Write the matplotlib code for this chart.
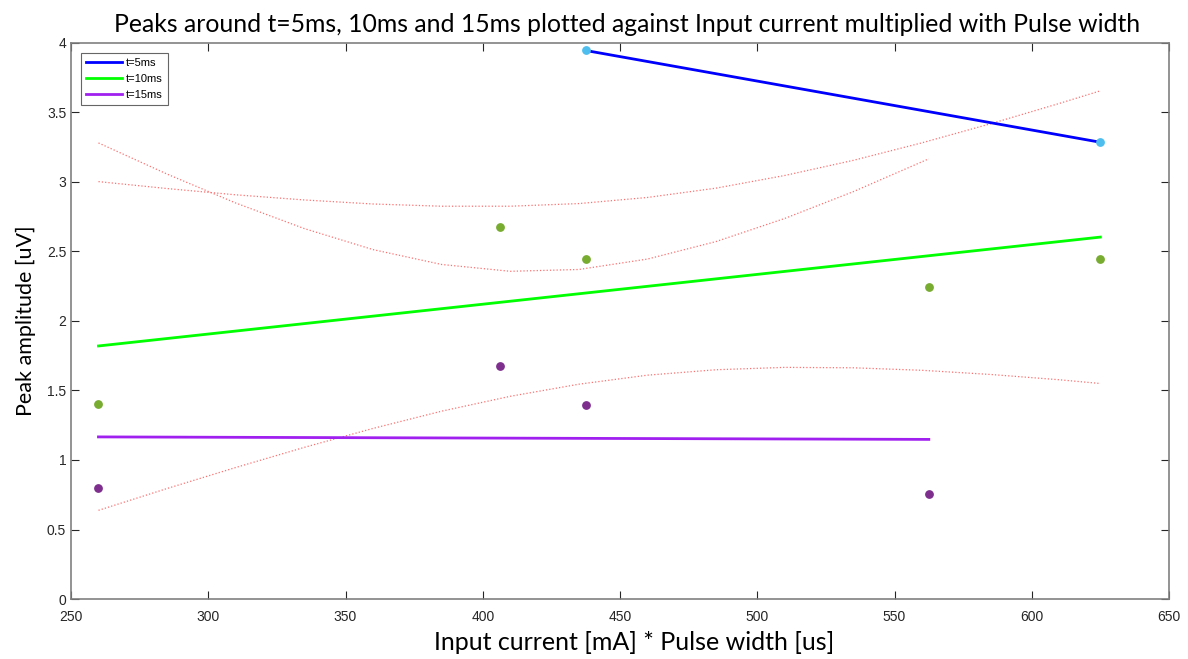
import matplotlib.pyplot as plt
import numpy as np

# measured points (x = input current * pulse width)
x_5 = [437.5, 625]
y_5 = [3.945, 3.285]
x_10 = [260, 406.25, 437.5, 562.5, 625]
y_10 = [1.404, 2.678, 2.448, 2.246, 2.448]
x_15 = [260, 406.25, 437.5, 562.5]
y_15 = [0.797, 1.677, 1.397, 0.754]

# fitted lines (end points)
fit5_x = [437.5, 625]
fit5_y = [3.945, 3.285]
fit10_x = [260, 625]
fit10_y = [1.820, 2.603]
fit15_x = [260, 562.5]
fit15_y = [1.166, 1.148]

# confidence bounds (dotted red), sampled along x
b10_x = [260, 285, 310, 335, 360, 385, 410, 435, 460, 485, 510, 535, 560, 585, 610, 625]
b10_up = [3.002, 2.952, 2.907, 2.870, 2.841, 2.825, 2.825, 2.844, 2.888, 2.955, 3.046,
          3.155, 3.281, 3.418, 3.564, 3.655]
b10_lo = [0.638, 0.795, 0.946, 1.091, 1.227, 1.351, 1.458, 1.545, 1.610, 1.649, 1.666,
          1.663, 1.645, 1.615, 1.577, 1.550]
b15_x = [260, 285, 310, 335, 360, 385, 410, 435, 460, 485, 510, 535, 562.5]
b15_up = [3.280, 3.056, 2.848, 2.664, 2.513, 2.406, 2.357, 2.370, 2.445, 2.571, 2.737,
          2.930, 3.166]

plt.rcParams['font.family'] = ['Liberation Sans', 'DejaVu Sans']
fig = plt.figure(figsize=(11.88, 6.59), dpi=100)
ax = fig.add_axes([0.0598, 0.091, 0.9242, 0.844])

bound_style = dict(color='#ff7070', linestyle=':', linewidth=0.9)
ax.plot(b10_x, b10_up, **bound_style)
ax.plot(b10_x, b10_lo, **bound_style)
ax.plot(b15_x, b15_up, **bound_style)

l5, = ax.plot(fit5_x, fit5_y, color='#0000ff', linewidth=2, label='t=5ms')
l10, = ax.plot(fit10_x, fit10_y, color='#00ff00', linewidth=2, label='t=10ms')
l15, = ax.plot(fit15_x, fit15_y, color='#a020f0', linewidth=2, label='t=15ms')

ax.scatter(x_5, y_5, s=28, color='#4dbeee', zorder=3)
ax.scatter(x_10, y_10, s=28, color='#77ac30', zorder=3)
ax.scatter(x_15, y_15, s=28, color='#7e2f8e', zorder=3)

ax.set_xlim(250, 650)
ax.set_ylim(0, 4)
ax.set_xticks(np.arange(250, 651, 50))
ax.set_yticks(np.arange(0, 4.01, 0.5))
ax.set_yticklabels(['0', '0.5', '1', '1.5', '2', '2.5', '3', '3.5', '4'])
ax.tick_params(direction='in', top=True, right=True, labelsize=10, colors='#262626',
               length=6, width=0.8)
ax.tick_params(axis='x', pad=8)
for s in ax.spines.values():
    s.set_color('#808080')
    s.set_linewidth(1.2)

ax.set_title('Peaks around t=5ms, 10ms and 15ms plotted against Input current multiplied with Pulse width',
             family=['Lato', 'DejaVu Sans'], fontsize=17.8, pad=8, x=0.506)
ax.set_xlabel('Input current [mA] * Pulse width [us]', family=['Lato', 'DejaVu Sans'],
              fontsize=18, labelpad=6)
ax.xaxis.set_label_coords(0.513, -0.057)
ax.set_ylabel('Peak amplitude [uV]', family=['Lato', 'DejaVu Sans'], fontsize=15.5, labelpad=8)

leg = ax.legend(handles=[l5, l10, l15], loc='upper left', fontsize=8, frameon=True,
                fancybox=False, edgecolor='#404040', handlelength=3.2, borderpad=0.45,
                labelspacing=0.55, handletextpad=0.4, borderaxespad=0.9)
leg.get_frame().set_linewidth(0.8)

plt.savefig('out.png', dpi=100)
